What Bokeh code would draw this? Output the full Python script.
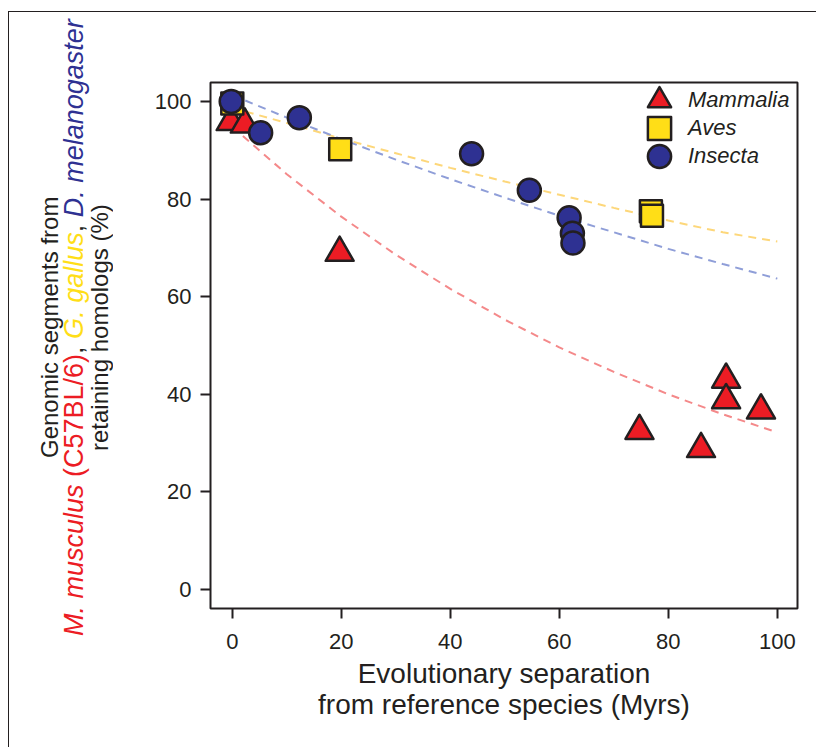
from bokeh.plotting import figure
from bokeh.models import Range1d, FixedTicker, Legend, LegendItem, Div
from bokeh.layouts import row
from bokeh.embed import file_html
from bokeh.resources import INLINE

# ---------------- data ----------------
mam_x = [-0.3, 2.3, 19.7, 74.7, 86.0, 90.6, 90.6, 97.0]
mam_y = [95.8, 95.3, 69.0, 32.5, 28.8, 43.0, 38.8, 36.7]

aves_x = [0.0, 19.8, 76.8, 77.0]
aves_y = [99.6, 90.2, 77.5, 76.6]

ins_x = [-0.2, 5.2, 12.3, 43.9, 54.5, 61.8, 62.4, 62.5]
ins_y = [100.0, 93.6, 96.7, 89.3, 81.8, 76.2, 73.0, 71.0]

# dashed trend lines, read at x = 0, 10, ..., 100
trend_x = [0, 10, 20, 30, 40, 50, 60, 70, 80, 90, 100]
mam_trend = [94.8, 85.1, 76.4, 68.6, 61.6, 55.3, 49.6, 44.6, 40.0, 35.9, 32.2]
aves_trend = [98.7, 95.6, 92.4, 89.4, 86.4, 83.6, 80.9, 78.2, 75.6, 73.2, 71.3]
ins_trend = [101.3, 96.7, 92.3, 88.1, 84.1, 80.3, 76.6, 73.2, 69.8, 66.7, 63.7]

x_ticks = [0, 20, 40, 60, 80, 100]
y_ticks = [0, 20, 40, 60, 80, 100]

groups = ["Mammalia", "Aves", "Insecta"]

# ---------------- styles ----------------
RED = "#EC1C24"
YEL = "#FFDE17"
BLU = "#2E3192"
INK = "#231F20"
FONT = "Liberation Sans"

p = figure(width=686, height=735, output_backend="svg", toolbar_location=None,
           x_range=Range1d(-4.0, 103.7), y_range=Range1d(-3.9, 103.9),
           min_border_left=80, min_border_right=19, min_border_top=70,
           min_border_bottom=139, margin=(0, 0, 0, 0))
p.grid.visible = False
p.outline_line_color = INK
p.outline_line_width = 2
p.background_fill_color = "white"
p.border_fill_color = "white"

for ax in (p.xaxis[0], p.yaxis[0]):
    ax.axis_line_color = None
    ax.major_tick_out = 10
    ax.major_tick_in = 0
    ax.major_tick_line_width = 2
    ax.major_tick_line_color = INK
    ax.minor_tick_line_color = None
    ax.major_label_text_font = FONT
    ax.major_label_text_font_size = "22px"
    ax.major_label_text_color = INK
p.yaxis.major_label_standoff = 9
p.xaxis.major_label_standoff = 15

p.xaxis.ticker = FixedTicker(ticks=x_ticks)
p.yaxis.ticker = FixedTicker(ticks=y_ticks)
p.xaxis.axis_label = "Evolutionary separation\nfrom reference species (Myrs)"
p.xaxis.axis_label_text_font = FONT
p.xaxis.axis_label_text_font_size = "28px"
p.xaxis.axis_label_text_font_style = "normal"
p.xaxis.axis_label_text_color = INK
p.xaxis.axis_label_standoff = 6
p.xaxis.axis_label_text_line_height = 1.0

# dashed fits
p.line(trend_x, mam_trend, line_color="#F4898A", line_width=2, line_dash="8 6")
p.line(trend_x, aves_trend, line_color="#FDD77A", line_width=2, line_dash="8 6")
p.line(trend_x, ins_trend, line_color="#8F9ED8", line_width=2, line_dash="8 6")

r_m = p.scatter(mam_x, mam_y, marker="triangle", size=28, fill_color=RED,
                line_color=INK, line_width=2.5, line_join="round")
r_a = p.scatter(aves_x, aves_y, marker="square", size=22, fill_color=YEL,
                line_color=INK, line_width=2.5, line_join="round")
r_i = p.scatter(ins_x, ins_y, marker="circle", size=23, fill_color=BLU,
                line_color=INK, line_width=2.5)

# one single-item legend per group, stacked 28px apart (frame-relative px)
for i, (name, rend) in enumerate(zip(groups, [r_m, r_a, r_i])):
    lg = Legend(items=[LegendItem(label=name, renderers=[rend])],
                location=(420, 479 - 28 * i), glyph_width=58, glyph_height=58,
                label_standoff=0, padding=0, margin=0,
                border_line_color=None, background_fill_alpha=0,
                label_text_font=FONT, label_text_font_style="italic",
                label_text_font_size="22px", label_text_color=INK)
    p.add_layout(lg)

# ---------------- multi-coloured y-axis title (HTML text) ----------------
ylab_html = (
    '<div style="margin-left:28px; margin-top:0px; height:631px; '
    'writing-mode:vertical-rl; transform:rotate(180deg); text-align:center; '
    f'white-space:nowrap; font-family:\'{FONT}\', Arial, sans-serif; color:{INK};">'
    '<div style="font-size:24px; line-height:25px;">Genomic segments from</div>'
    '<div style="font-size:27px; line-height:25px;">'
    f'<span style="color:{RED}"><i>M. musculus</i> (C57BL/6)</span>, '
    f'<span style="color:{YEL}"><i>G. gallus</i></span>, '
    f'<span style="color:{BLU}"><i>D. melanogaster</i></span></div>'
    '<div style="font-size:24px; line-height:25px;">retaining homologs (%)</div>'
    '</div>'
)
ylab = Div(text=ylab_html, width=121, height=735, margin=(0, 0, 0, 0))

layout = row(ylab, p)
layout.margin = (11, 0, 0, 8)
layout.styles = {"border-left": "1.5px solid #231F20",
                 "border-top": "1.5px solid #231F20"}

open("out.html", "w").write(file_html(layout, INLINE))
